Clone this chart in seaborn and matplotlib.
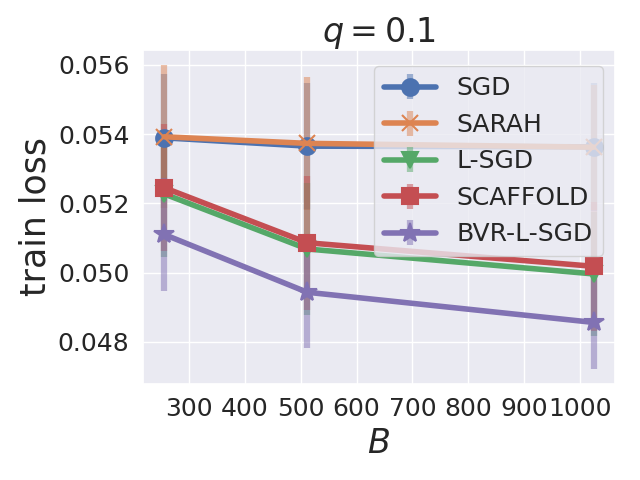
import matplotlib
matplotlib.use('Agg')
import matplotlib.pyplot as plt
from matplotlib.ticker import MultipleLocator
import seaborn as sns

# --- data ---
batch_sizes = [256, 512, 1024]

sgd_mean = [0.05389, 0.05365, 0.05363]
sgd_err = [0.00183, 0.00181, 0.00185]

sarah_mean = [0.05392, 0.05373, 0.05362]
sarah_err = [0.00207, 0.00192, 0.00180]

lsgd_mean = [0.05227, 0.05068, 0.04996]
lsgd_err = [0.00182, 0.00190, 0.00180]

scaffold_mean = [0.05245, 0.05086, 0.05018]
scaffold_err = [0.00184, 0.00194, 0.00186]

bvr_mean = [0.05110, 0.04943, 0.04856]
bvr_err = [0.00162, 0.00160, 0.00134]

methods = ['SGD', 'SARAH', 'L-SGD', 'SCAFFOLD', 'BVR-L-SGD']
means = [sgd_mean, sarah_mean, lsgd_mean, scaffold_mean, bvr_mean]
errs = [sgd_err, sarah_err, lsgd_err, scaffold_err, bvr_err]
markers = ['o', 'x', 'v', 's', '*']

# --- style ---
sns.set_theme(style='darkgrid', font_scale=1.6)
colors = sns.color_palette('deep')

fig, ax = plt.subplots(figsize=(6.4, 4.8), dpi=100)

for i, name in enumerate(methods):
    ms = 15 if markers[i] == '*' else 12
    cont = ax.errorbar(batch_sizes, means[i], yerr=errs[i], label=name,
                       color=colors[i], marker=markers[i], markersize=ms,
                       linewidth=4, elinewidth=4.5, markeredgewidth=1.5)
    cont[2][0].set_alpha(0.5)  # 에러바만 반투명하게

ax.xaxis.set_major_locator(MultipleLocator(100))
ax.tick_params(labelsize=18)
ax.set_title('$q = 0.1$', fontsize=24)
ax.set_xlabel('$B$', fontsize=24, labelpad=4)
ax.set_ylabel('train loss', fontsize=25)
ax.legend(loc='upper right', fontsize=18, handlelength=2.1,
          bbox_to_anchor=(1.0, 0.988))

fig.subplots_adjust(left=0.223, right=0.961, top=0.896, bottom=0.2)
plt.savefig('out.png', dpi=100)
